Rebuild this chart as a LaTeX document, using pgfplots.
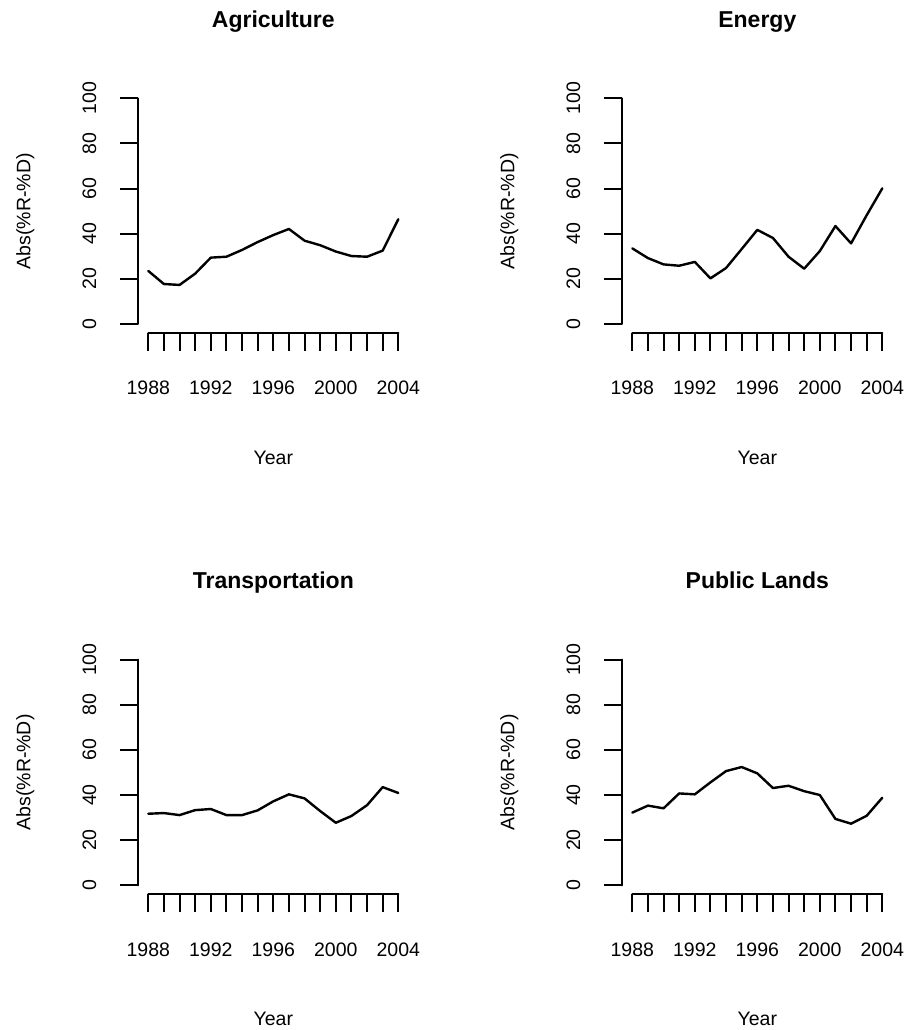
\documentclass[border=0pt]{standalone}
\usepackage{pgfplots}
\pgfplotsset{compat=1.18}
\usepackage{fontspec}
\setmainfont{Liberation Sans}

\pgfplotstableread{
year agr energy trans publ
1988 23.5 33.5 31.7 32.2
1989 17.7 29.2 32.0 35.3
1990 17.3 26.4 31.1 34.1
1991 22.3 25.8 33.3 40.7
1992 29.4 27.5 33.8 40.3
1993 29.8 20.2 31.1 45.6
1994 32.8 24.8 31.1 50.6
1995 36.3 33.2 33.2 52.4
1996 39.4 41.7 37.2 49.6
1997 42.1 38.1 40.3 43.1
1998 36.9 29.8 38.5 44.1
1999 34.9 24.5 32.9 41.7
2000 32.1 32.3 27.7 40.0
2001 30.1 43.4 30.7 29.4
2002 29.8 35.7 35.5 27.3
2003 32.5 48.2 43.5 30.8
2004 46.4 60.1 40.9 38.8
}\datatable

\pgfplotsset{
  rplot/.style={
    scale only axis, width=270pt, height=243.7pt,
    anchor=south west,
    xmin=1987.36, xmax=2004.64, ymin=-4, ymax=104,
    clip=false,
    axis x line*=bottom, axis y line*=left,
    axis line style={draw=none},
    tick align=outside, major tick length=18pt,
    every tick/.style={black, line width=2pt},
    xtick={1988,...,2004},
    xticklabels={1988,,,,1992,,,,1996,,,,2000,,,,2004},
    ytick={0,20,40,60,80,100},
    yticklabels={0,20,40,60,80,100},
    tick label style={font=\fontsize{19.5}{22}\selectfont},
    xticklabel style={anchor=center},
    xticklabel shift=37pt,
    yticklabel style={rotate=90, anchor=center},
    yticklabel shift=31pt,
    xlabel={Year}, ylabel={Abs(\%R-\%D)},
    xlabel style={at={(axis description cs:0.5,-0.513)}, anchor=center, font=\fontsize{19.5}{22}\selectfont},
    ylabel style={at={(axis description cs:-0.4185,0.5)}, anchor=center, rotate=0, font=\fontsize{19.5}{22}\selectfont},
    title style={at={(axis description cs:0.5,1.2298)}, anchor=base, font=\fontsize{23}{27}\selectfont\bfseries},
  },
  rline/.style={black, line width=2.4pt, line join=round, line cap=round, no markers},
}

\newcommand{\raxes}{%
  \draw[line width=2pt, line cap=round] (axis cs:1988,-4) -- (axis cs:2004,-4);
  \draw[line width=2pt, line cap=round] (axis cs:1987.36,0) -- (axis cs:1987.36,100);
}

\begin{document}
\begin{tikzpicture}
\useasboundingbox (0,0) rectangle (907pt,1030pt);

\begin{axis}[rplot, at={(138.3pt,697pt)}, title={Agriculture}]
  \addplot[rline] table[x=year, y=agr] {\datatable};
  \raxes
\end{axis}

\begin{axis}[rplot, at={(622.3pt,697pt)}, title={Energy}]
  \addplot[rline] table[x=year, y=energy] {\datatable};
  \raxes
\end{axis}

\begin{axis}[rplot, at={(138.3pt,135.7pt)}, title={Transportation}]
  \addplot[rline] table[x=year, y=trans] {\datatable};
  \raxes
\end{axis}

\begin{axis}[rplot, at={(622.3pt,135.7pt)}, title={Public Lands}]
  \addplot[rline] table[x=year, y=publ] {\datatable};
  \raxes
\end{axis}
\end{tikzpicture}
\end{document}
